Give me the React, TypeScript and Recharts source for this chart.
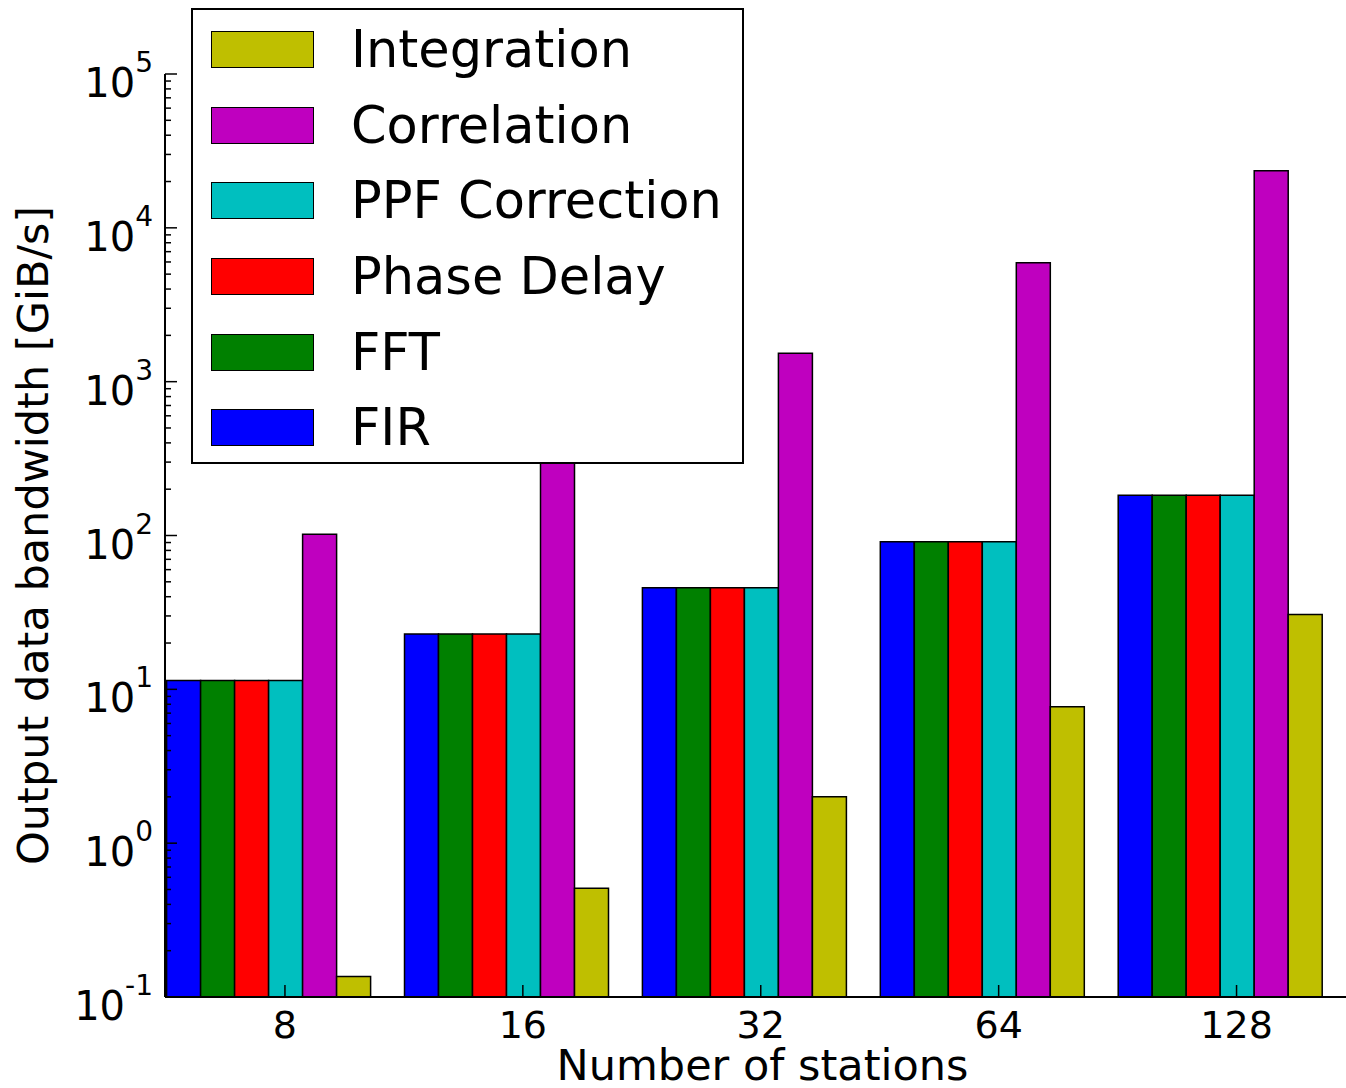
import { BarChart, Bar, XAxis, YAxis, Legend, Label } from "recharts"

const FONT = "DejaVu Sans, sans-serif"

// categories
const stations = ["8", "16", "32", "64", "128"]

// output bandwidth per kernel [GiB/s]
const firValues = [11.4, 22.9, 45.8, 91.2, 183]
const fftValues = [11.4, 22.9, 45.8, 91.2, 183]
const phaseDelayValues = [11.4, 22.9, 45.8, 91.2, 183]
const ppfCorrectionValues = [11.4, 22.9, 45.8, 91.2, 183]
const correlationValues = [102, 390, 1530, 5930, 23500]
const integrationValues = [0.136, 0.51, 2.0, 7.7, 30.7]

// y axis ticks (log scale)
const yMajorTicks = [0.1, 1, 10, 100, 1000, 10000, 100000]
const yExponents = ["-1", "0", "1", "2", "3", "4", "5"]
const yMinorSteps = [2, 3, 4, 5, 6, 7, 8, 9]

const series = [
  { key: "fir", name: "FIR", color: "#0000ff", values: firValues },
  { key: "fft", name: "FFT", color: "#008000", values: fftValues },
  { key: "phase", name: "Phase Delay", color: "#ff0000", values: phaseDelayValues },
  { key: "ppf", name: "PPF Correction", color: "#00bfbf", values: ppfCorrectionValues },
  { key: "corr", name: "Correlation", color: "#bf00bf", values: correlationValues },
  { key: "integ", name: "Integration", color: "#bfbf00", values: integrationValues },
]

const data = stations.map((station, i) => {
  const row: Record<string, any> = { station }
  series.forEach(s => { row[s.key] = s.values[i] })
  return row
})

const yTicks = [
  ...yMajorTicks,
  ...yMajorTicks.slice(0, -1).flatMap(d => yMinorSteps.map(m => m * d)),
].sort((a, b) => a - b)

const YTick = ({ x, y, payload }: any) => {
  const idx = yMajorTicks.indexOf(payload.value)
  const major = idx >= 0
  return (
    <g>
      <line x1={x} x2={x + (major ? 12 : 6)} y1={y} y2={y} stroke="#000" strokeWidth={1.5} />
      {major && (
        <text x={x - 12} y={y + 23} textAnchor="end" fontSize={40} fill="#000" fontFamily={FONT}>
          10<tspan dy={-25} fontSize={28}>{yExponents[idx]}</tspan>
        </text>
      )}
    </g>
  )
}

// ticks sit on the 4th bar of each group, half a bar right of the band centre
const XTick = ({ x, y, payload }: any) => (
  <g>
    <line x1={x + 17} x2={x + 17} y1={y} y2={y - 12} stroke="#000" strokeWidth={1.5} />
    <text x={x + 17} y={y + 41} textAnchor="middle" fontSize={38} fill="#000" fontFamily={FONT}>
      {payload.value}
    </text>
  </g>
)

const TopTick = ({ x, y }: any) => (
  <line x1={x + 17} x2={x + 17} y1={y} y2={y + 12} stroke="#000" strokeWidth={1.5} />
)

const XLabel = ({ viewBox }: any) => (
  <text
    x={viewBox.x + viewBox.width / 2 + 7}
    y={viewBox.y + 83}
    textAnchor="middle"
    fontSize={43}
    fill="#000"
    fontFamily={FONT}
  >
    Number of stations
  </text>
)

const YLabel = ({ viewBox }: any) => {
  const cx = viewBox.x + 48
  const cy = viewBox.y + viewBox.height / 2
  return (
    <text
      x={cx}
      y={cy}
      transform={`rotate(-90 ${cx} ${cy})`}
      textAnchor="middle"
      fontSize={43}
      fill="#000"
      fontFamily={FONT}
    >
      Output data bandwidth [GiB/s]
    </text>
  )
}

const LegendBox = () => (
  <div
    style={{
      width: 553,
      height: 456,
      boxSizing: "border-box",
      border: "2px solid #000",
      background: "#fff",
      paddingTop: 2,
      fontFamily: FONT,
    }}
  >
    {[...series].reverse().map(s => (
      <div key={s.key} style={{ height: 75.6, display: "flex", alignItems: "center" }}>
        <div
          style={{
            marginLeft: 18,
            width: 103,
            height: 37,
            boxSizing: "border-box",
            border: "1.5px solid #000",
            background: s.color,
          }}
        />
        <span style={{ marginLeft: 37, fontSize: 51, lineHeight: 1, color: "#000", whiteSpace: "nowrap" }}>
          {s.name}
        </span>
      </div>
    ))}
  </div>
)

export default function App() {
  return (
    <div style={{ position: "absolute", left: 0, top: 0, width: 1346, height: 1088, background: "#fff" }}>
      <BarChart
        width={1346}
        height={1088}
        data={data}
        margin={{ top: 74, right: 0, bottom: 0, left: 0 }}
        barCategoryGap="7.4%"
        barGap={0}
      >
        <XAxis
          dataKey="station"
          height={91}
          padding={{ left: -16, right: 7.5 }}
          axisLine={{ stroke: "#000", strokeWidth: 2 }}
          tickLine={false}
          tickSize={0}
          tickMargin={0}
          interval={0}
          tick={<XTick />}
        >
          <Label content={XLabel} />
        </XAxis>
        <XAxis
          xAxisId="top"
          orientation="top"
          dataKey="station"
          height={0}
          padding={{ left: -16, right: 7.5 }}
          axisLine={{ stroke: "#000", strokeWidth: 2 }}
          tickLine={false}
          tickSize={0}
          tickMargin={0}
          interval={0}
          tick={<TopTick />}
        />
        <YAxis
          scale="log"
          type="number"
          domain={[0.1, 100000]}
          allowDataOverflow
          ticks={yTicks}
          interval={0}
          width={165}
          axisLine={{ stroke: "#000", strokeWidth: 2 }}
          tickLine={false}
          tickSize={0}
          tickMargin={0}
          tick={<YTick />}
        >
          <Label content={YLabel} />
        </YAxis>
        {series.map(s => (
          <Bar
            key={s.key}
            dataKey={s.key}
            name={s.name}
            fill={s.color}
            stroke="#000"
            strokeWidth={1.5}
            isAnimationActive={false}
          />
        ))}
        <Legend
          layout="horizontal"
          verticalAlign="middle"
          align="center"
          content={<LegendBox />}
          wrapperStyle={{ left: 191, top: 8, width: 553, height: 456 }}
        />
      </BarChart>
    </div>
  )
}
